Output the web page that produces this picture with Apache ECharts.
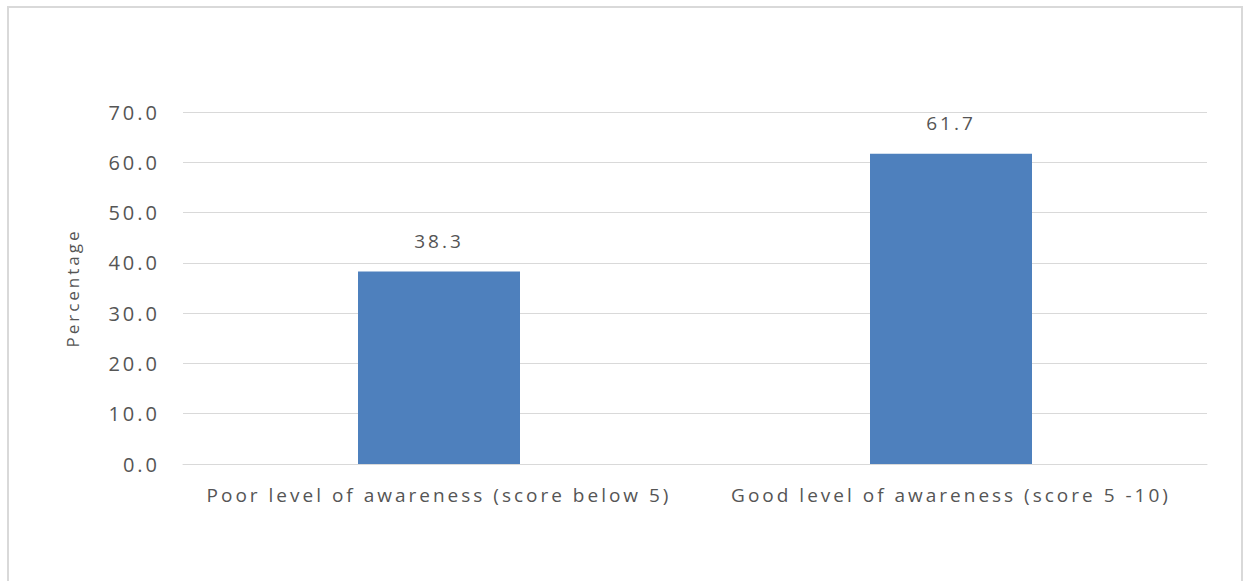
<!DOCTYPE html>
<html><head><meta charset="utf-8">
<script src="https://cdn.jsdelivr.net/npm/echarts@6/dist/echarts.min.js"></script>
<style>
html,body{margin:0;padding:0;background:#fff}
#c{width:1244px;height:581px}
#c svg text{letter-spacing:3px}
</style>
</head><body><div id="c"></div>
<script>
const categories = ["Poor level of awareness (score below 5)", "Good level of awareness (score 5 -10)"];
const percentages = [38.3, 61.7];
const yTicks = [0, 10, 20, 30, 40, 50, 60, 70];

const chart = echarts.init(document.getElementById('c'), null, {renderer: 'svg'});
const font = '"Open Sans", sans-serif';
chart.setOption({
  backgroundColor: '#fff',
  animation: false,
  graphic: [{
    type: 'rect', shape: {x: 8, y: 7, width: 1234, height: 590},
    style: {fill: 'none', stroke: '#d9d9d9', lineWidth: 2}, silent: true
  }],
  grid: {left: 183, right: 37, top: 112, bottom: 117},
  xAxis: {
    type: 'category', data: categories,
    axisLine: {lineStyle: {color: '#d9d9d9', width: 1}},
    axisTick: {show: false},
    axisLabel: {color: '#555555', fontSize: 19, fontFamily: font, margin: 21, interval: 0}
  },
  yAxis: {
    type: 'value', min: yTicks[0], max: yTicks[yTicks.length - 1], interval: 10,
    name: 'Percentage', nameLocation: 'middle', nameRotate: 90, nameGap: 102,
    nameTextStyle: {color: '#555555', fontSize: 17, fontFamily: font},
    axisLine: {show: false}, axisTick: {show: false},
    axisLabel: {color: '#555555', fontSize: 20, fontFamily: font, margin: 23,
      formatter: v => v.toFixed(1)},
    splitLine: {lineStyle: {color: '#d9d9d9', width: 1}}
  },
  series: [{
    type: 'bar', data: percentages, barWidth: 162,
    itemStyle: {color: '#4e80bd'},
    label: {show: true, position: 'top', distance: 21, color: '#555555', fontSize: 19, fontFamily: font,
      formatter: p => p.value.toFixed(1)}
  }]
});
</script></body></html>
